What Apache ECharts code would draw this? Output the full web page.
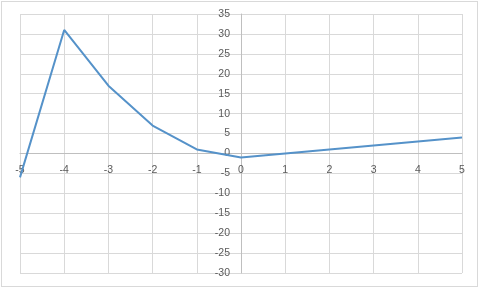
<!DOCTYPE html>
<html>
<head>
<meta charset="utf-8">
<script src="https://cdn.jsdelivr.net/npm/echarts@6/dist/echarts.min.js"></script>
<style>
html,body{margin:0;padding:0;background:#fff;}
#frame{position:absolute;left:1px;top:1px;width:477px;height:286px;border:1px solid #d9d9d9;box-sizing:border-box;}
#c{position:absolute;left:0;top:0;width:480px;height:288px;}
</style>
</head>
<body>
<div id="frame"></div>
<div id="c"></div>
<script>
var xValues = [-5, -4, -3, -2, -1, 0, 1, 2, 3, 4, 5];
var yValues = [-6, 31, 17, 7, 1, -1, 0, 1, 2, 3, 4];
var xTicks = { min: -5, max: 5, interval: 1 };
var yTicks = { min: -30, max: 35, interval: 5 };

var points = xValues.map(function (x, i) { return [x, yValues[i]]; });

var chart = echarts.init(document.getElementById('c'), null, { renderer: 'canvas' });
var labelStyle = { color: '#595959', fontSize: 10.5, fontFamily: 'Liberation Sans, Arial, sans-serif' };
var gridOpt = { left: 20, right: 18, top: 14, bottom: 15, containLabel: false, outerBoundsMode: 'none' };
chart.setOption({
  animation: false,
  backgroundColor: 'transparent',
  grid: gridOpt,
  xAxis: {
    type: 'value', min: xTicks.min, max: xTicks.max, interval: xTicks.interval,
    position: 'bottom',
    axisLine: { show: true, onZero: false, lineStyle: { color: '#bfbfbf', width: 1 } },
    axisTick: { show: false },
    axisLabel: Object.assign({ margin: 11 }, labelStyle),
    splitLine: { show: true, lineStyle: { color: '#d9d9d9', width: 1 } }
  },
  yAxis: {
    type: 'value', min: yTicks.min, max: yTicks.max, interval: yTicks.interval,
    position: 'left',
    axisLine: { show: true, onZero: false, lineStyle: { color: '#bfbfbf', width: 1 } },
    axisTick: { show: false },
    axisLabel: Object.assign({ margin: 11 }, labelStyle),
    splitLine: { show: true, lineStyle: { color: '#d9d9d9', width: 1 } }
  },
  series: [{
    type: 'line',
    data: points,
    showSymbol: false,
    symbol: 'none',
    lineStyle: { color: '#5592c9', width: 2 },
    itemStyle: { color: '#5592c9' }
  }]
});
// Move both axes (line + labels) to the zero crossing, as in the reference.
var origin = chart.convertToPixel({ gridIndex: 0 }, [0, 0]);
var bottomLeft = chart.convertToPixel({ gridIndex: 0 }, [xTicks.min, yTicks.min]);
chart.setOption({
  yAxis: { offset: -(origin[0] - bottomLeft[0]) },
  xAxis: { offset: -(bottomLeft[1] - origin[1]) }
});
</script>
</body>
</html>
